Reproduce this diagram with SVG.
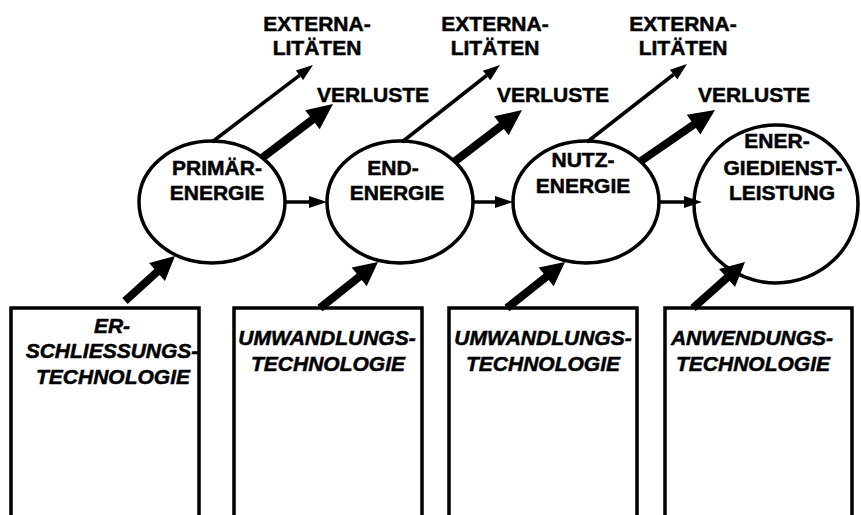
<svg xmlns="http://www.w3.org/2000/svg" width="861" height="515" viewBox="0 0 861 515">
<style>
text{font-family:"Liberation Sans",Arial,sans-serif;font-weight:bold;font-size:21px;fill:#000;stroke:#000;stroke-width:0.5;text-anchor:middle}
.it{font-style:italic}
.node{fill:#fff;stroke:#000;stroke-width:3.5}
.thin{stroke:#000;stroke-width:3.5;fill:none}
.thick{stroke:#000;stroke-width:8;fill:none}
.head{fill:#000;stroke:none}
</style>
<rect width="861" height="515" fill="#fff"/>
<g id="box-erschliessung">
<rect class="node" x="11" y="308" width="188" height="215"/>
<text class="it" x="112" y="333">ER-</text>
<text class="it" x="112" y="358">SCHLIESSUNGS-</text>
<text class="it" x="113" y="384">TECHNOLOGIE</text>
</g>
<g id="box-umwandlung1">
<rect class="node" x="234" y="308" width="188" height="215"/>
<text class="it" x="327" y="345">UMWANDLUNGS-</text>
<text class="it" x="328" y="371">TECHNOLOGIE</text>
</g>
<g id="box-umwandlung2">
<rect class="node" x="449" y="308" width="188" height="215"/>
<text class="it" x="543" y="345">UMWANDLUNGS-</text>
<text class="it" x="543" y="371">TECHNOLOGIE</text>
</g>
<g id="box-anwendung">
<rect class="node" x="665" y="308" width="187" height="215"/>
<text class="it" x="752" y="345">ANWENDUNGS-</text>
<text class="it" x="753" y="371">TECHNOLOGIE</text>
</g>
<g id="primaerenergie">
<ellipse class="node" cx="212" cy="202" rx="73" ry="61"/>
<text x="217" y="175">PRIMÄR-</text>
<text x="217" y="200">ENERGIE</text>
</g>
<g id="endenergie">
<ellipse class="node" cx="400" cy="202" rx="73" ry="61"/>
<text x="393" y="175">END-</text>
<text x="397" y="200">ENERGIE</text>
</g>
<g id="nutzenergie">
<ellipse class="node" cx="586" cy="202" rx="73" ry="61"/>
<text x="583" y="167">NUTZ-</text>
<text x="583" y="193">ENERGIE</text>
</g>
<g id="energiedienstleistung">
<ellipse class="node" cx="776" cy="204" rx="82" ry="79"/>
<text x="777" y="148">ENER-</text>
<text x="783" y="175">GIEDIENST-</text>
<text x="782" y="200">LEISTUNG</text>
</g>
<g id="labels">
<text x="317" y="31">EXTERNA-</text>
<text x="317" y="55">LITÄTEN</text>
<text x="495" y="31">EXTERNA-</text>
<text x="495" y="55">LITÄTEN</text>
<text x="683" y="31">EXTERNA-</text>
<text x="683" y="55">LITÄTEN</text>
<text x="373" y="102">VERLUSTE</text>
<text x="553" y="102">VERLUSTE</text>
<text x="754" y="102">VERLUSTE</text>
</g>
<g id="connectors">
<line class="thin" x1="285" y1="202" x2="311" y2="202"/>
<polygon class="head" points="309,196 327,202 309,208"/>
<line class="thin" x1="473" y1="202" x2="497" y2="202"/>
<polygon class="head" points="495,196 513,202 495,208"/>
<line class="thin" x1="658" y1="202" x2="686" y2="202"/>
<polygon class="head" points="684,196 702,202 684,208"/>
<line class="thin" x1="212" y1="142" x2="299.5" y2="75.3"/>
<polygon class="head" points="303.1,80.1 313,65 295.9,70.5"/>
<line class="thin" x1="402" y1="142" x2="486.6" y2="75.5"/>
<polygon class="head" points="490.3,80.2 500,65 482.9,70.8"/>
<line class="thin" x1="587" y1="142" x2="673.6" y2="74.5"/>
<polygon class="head" points="677.3,79.2 687,64 669.9,69.8"/>
<line class="thick" x1="262" y1="158" x2="314" y2="118.5"/>
<polygon class="head" points="319.7,129.3 333,104 305.1,110.3"/>
<line class="thick" x1="454" y1="162" x2="503" y2="124.5"/>
<polygon class="head" points="508.7,135.3 522,110 494.1,116.3"/>
<line class="thick" x1="641" y1="161" x2="695" y2="123.7"/>
<polygon class="head" points="700.4,134.6 715,110 686.8,114.8"/>
<line class="thick" x1="125" y1="301" x2="158.5" y2="270.6"/>
<polygon class="head" points="164.9,280.9 175,256 149.1,262.9"/>
<line class="thick" x1="320" y1="308" x2="360.8" y2="275.6"/>
<polygon class="head" points="366.7,286.3 378,262 351.7,267.5"/>
<line class="thick" x1="507" y1="308" x2="547.8" y2="275.6"/>
<polygon class="head" points="553.7,286.3 565,262 538.7,267.5"/>
<line class="thick" x1="693" y1="308" x2="728.5" y2="276.6"/>
<polygon class="head" points="735,286.9 745,262 719,268.9"/>
</g>
</svg>
